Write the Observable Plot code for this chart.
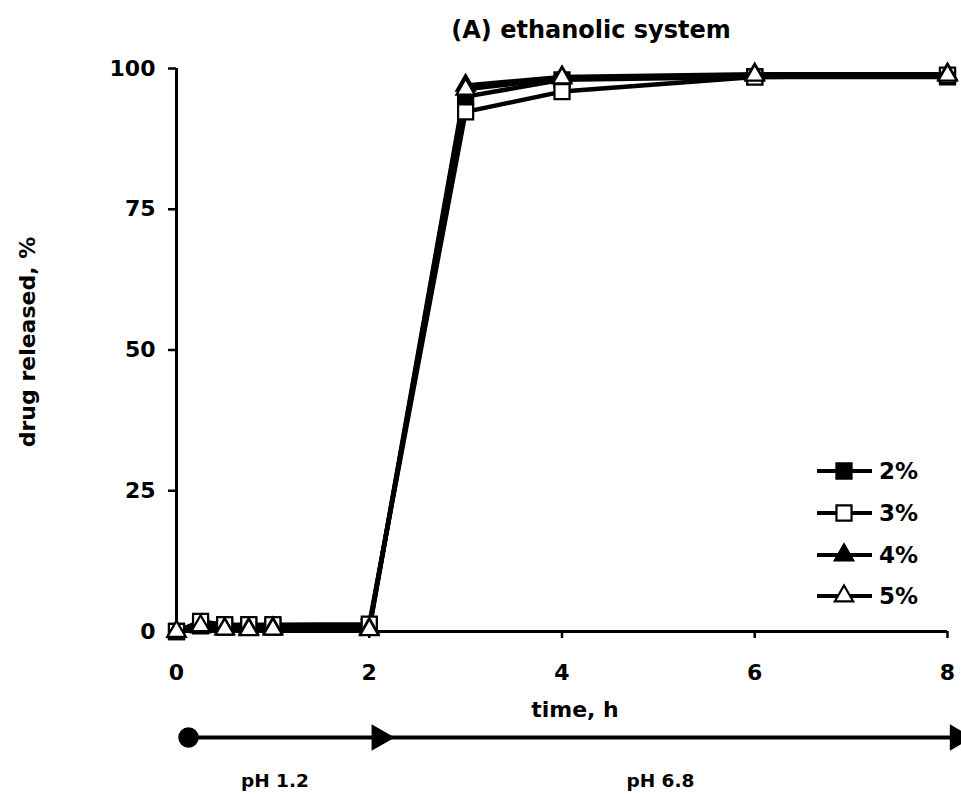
<!DOCTYPE html>
<html>
<head>
<meta charset="utf-8">
<script src="https://cdn.jsdelivr.net/npm/d3@7"></script>
<script src="https://cdn.jsdelivr.net/npm/@observablehq/plot@0.6"></script>
<style>
  body { margin: 0; background: white; }
  #wrap { position: relative; width: 961px; height: 794px; background: white; }
  #legend { position: absolute; left: 0; top: 0; }
</style>
</head>
<body>
<div id="wrap"></div>
<script>
// ---- data ----
const times = [0, 0.25, 0.5, 0.75, 1, 2, 3, 4, 6, 8];
const release2 = [0, 1.0, 0.8, 0.8, 0.8, 0.8, 95.0, 98.0, 98.5, 98.5];
const release3 = [0, 1.8, 1.2, 1.2, 1.2, 1.3, 92.3, 95.9, 98.5, 98.8];
const release4 = [0, 0.8, 0.5, 0.5, 0.6, 0.5, 97.0, 98.5, 99.0, 99.0];
const release5 = [0, 1.0, 0.4, 0.3, 0.4, 0.3, 96.3, 98.3, 98.8, 98.8];
const seriesNames = ["2%", "3%", "4%", "5%"];
const xTicks = [0, 2, 4, 6, 8];
const yTicks = [0, 25, 50, 75, 100];
const phaseStart = [0, 2];
const phaseEnd = [2, 8];
const phaseLabels = ["pH 1.2", "pH 6.8"];
const titleText = "(A) ethanolic system";
const xLabel = "time, h";
const yLabel = "drug released, %";

// ---- styles per series ----
const seriesStyle = {
  "2%": {symbol: "square", fill: "black", r: 8.5},
  "3%": {symbol: "square", fill: "white", r: 8.5},
  "4%": {symbol: "triangle", fill: "black", r: 6.8},
  "5%": {symbol: "triangle", fill: "white", r: 6.8}
};
const allValues = [release2, release3, release4, release5];
const rows = [];
seriesNames.forEach((s, i) => times.forEach((t, j) => rows.push({series: s, time: t, value: allValues[i][j]})));
const phases = phaseStart.map((s, i) => ({start: s, end: phaseEnd[i], mid: (s + phaseEnd[i]) / 2, label: phaseLabels[i]}));

const font = "'DejaVu Sans', 'Liberation Sans', Arial, sans-serif";

const chart = Plot.plot({
  width: 961,
  height: 794,
  marginTop: 68,
  marginBottom: 163,
  marginLeft: 176,
  marginRight: 14,
  x: {domain: [0, 8]},
  y: {domain: [0, 100]},
  style: {fontFamily: font, fontWeight: "bold", fontSize: "22px", background: "white", color: "black", overflow: "visible"},
  marks: [
    Plot.axisX({ticks: xTicks, tickSize: 7, tickPadding: 26, strokeWidth: 2.5, label: null, tickFormat: d => d, fontSize: 22, fontWeight: "bold"}),
    Plot.axisY({ticks: yTicks, tickSize: 8, tickPadding: 13, strokeWidth: 2.5, label: null, tickFormat: d => d, fontSize: 22, fontWeight: "bold"}),
    Plot.ruleX([0], {strokeWidth: 3}),
    Plot.ruleY([0], {strokeWidth: 3}),
    Plot.line(rows, {x: "time", y: "value", z: "series", stroke: "black", strokeWidth: 4.5}),
    ...seriesNames.map(s => Plot.dot(rows.filter(d => d.series === s), {
      x: "time", y: "value",
      symbol: seriesStyle[s].symbol, r: seriesStyle[s].r,
      fill: seriesStyle[s].fill, stroke: "black", strokeWidth: 2.2
    })),
    // title and axis labels
    Plot.text([titleText], {frameAnchor: "top", lineAnchor: "middle", dx: 29, dy: -38, text: d => d, fontSize: 24, fontWeight: "bold"}),
    Plot.text([xLabel], {frameAnchor: "bottom", lineAnchor: "middle", dx: 13, dy: 78, text: d => d, fontSize: 22, fontWeight: "bold"}),
    Plot.text([yLabel], {frameAnchor: "left", lineAnchor: "middle", textAnchor: "middle", dx: -149, dy: -8, rotate: -90, text: d => d, fontSize: 22, fontWeight: "bold"}),
    // pH phase arrow below the axis
    Plot.ruleY(phases, {y: () => 0, x1: "start", x2: "end", dy: 106, dx: 8, strokeWidth: 4, stroke: "black"}),
    Plot.dot(phases.slice(0, 1), {x: "start", y: () => 0, dy: 106, dx: 12, r: 9.5, fill: "black", stroke: "black"}),
    Plot.dot(phases, {x: "end", y: () => 0, dy: 106, dx: 10, symbol: "triangle", rotate: 90, r: 8.9, fill: "black", stroke: "black"}),
    Plot.text(phases, {x: "mid", y: () => 0, dy: 150, dx: 2, lineAnchor: "middle", text: "label", fontSize: 18.5, fontWeight: "bold"})
  ]
});
document.getElementById("wrap").appendChild(chart);

// ---- legend ----
const legendRowsY = [471, 513, 555, 596];
const leg = d3.select("#wrap").append("svg")
  .attr("id", "legend").attr("width", 961).attr("height", 794)
  .style("font-family", font).style("font-weight", "bold").style("font-size", "23px");
seriesNames.forEach((s, i) => {
  const g = leg.append("g").attr("transform", `translate(844,${legendRowsY[i]})`);
  g.append("line").attr("x1", -27).attr("x2", 28).attr("y1", 0).attr("y2", 0).attr("stroke", "black").attr("stroke-width", 4);
  const sym = seriesStyle[s].symbol === "square" ? d3.symbolSquare : d3.symbolTriangle;
  g.append("path").attr("d", d3.symbol(sym, Math.PI * seriesStyle[s].r ** 2)())
    .attr("fill", seriesStyle[s].fill).attr("stroke", "black").attr("stroke-width", 2.2);
  g.append("text").attr("x", 35).attr("y", 0).attr("dy", "0.36em").text(s);
});
</script>
</body>
</html>
